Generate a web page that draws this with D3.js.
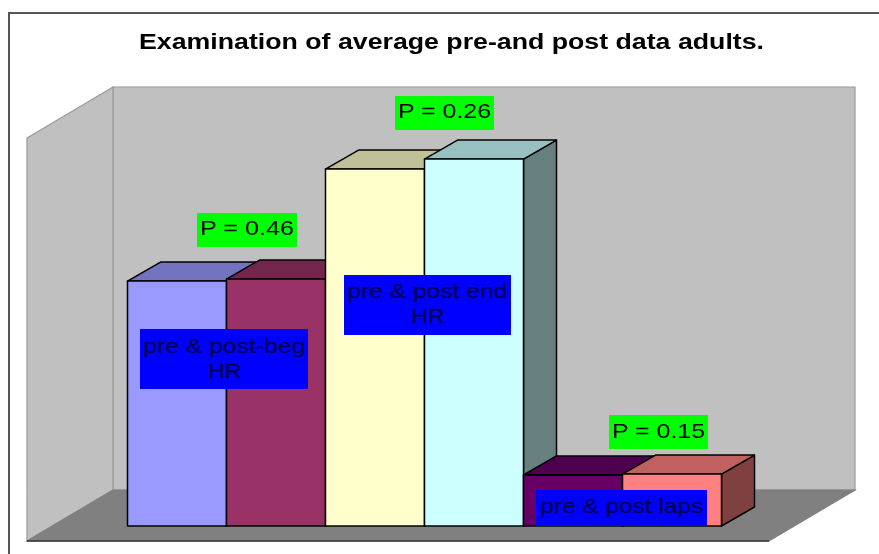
<!DOCTYPE html>
<html>
<head>
<meta charset="utf-8">
<script src="https://cdn.jsdelivr.net/npm/d3@7"></script>
<style>
  html, body { margin: 0; padding: 0; background: #fff; overflow: hidden; }
  svg { display: block; }
  text { font-family: "Liberation Sans", Arial, sans-serif; }
</style>
</head>
<body>
<svg id="chart" width="879" height="554"></svg>
<script>
const title = 'Examination of average pre-and post data adults.'

// bars (no value axis in the original, scale is estimated)
const categories = ['beg pre', 'beg post', 'end pre', 'end post', 'laps pre', 'laps post']
const values = [109.4, 110.3, 159.4, 163.9, 22.8, 23.2]
const barColors = ['#9999ff', '#993366', '#ffffcc', '#ccffff', '#660066', '#ff8080']

const pLabels = ['P = 0.46', 'P = 0.26', 'P = 0.15']
const groupLabels = [['pre & post-beg', 'HR'], ['pre & post end', 'HR'], ['pre & post laps']]

const WALL = { left: 113, right: 855, top: 87, bottom: 490 }
const DEPTH = { x: 86, y: 51 }
const BAR_DEPTH = { x: 33, y: 19 }
const BASE = 526

const $svg = d3.select('#chart')

const defs = $svg.append('defs')
defs.append('filter').attr('id', 'soft')
    .append('feGaussianBlur').attr('stdDeviation', 0.45)

// frame around the pasted chart, only top and left are inside the picture
$svg.append('path')
    .attr('d', 'M9,554V13H879')
    .attr('fill', 'none')
    .attr('stroke', '#555')
    .attr('stroke-width', 2)

$svg.append('text')
    .attr('x', 139)
    .attr('y', 49)
    .attr('font-size', 22)
    .attr('font-weight', 'bold')
    .attr('fill', '#000')
    .attr('textLength', 625)
    .attr('lengthAdjust', 'spacingAndGlyphs')
    .attr('filter', 'url(#soft)')
    .text(title)

const $gVis = $svg.append('g').attr('filter', 'url(#soft)')

const x = d3.scaleBand().domain(categories).range([127.5, 721.5]).padding(0)
const y = d3.scaleLinear().domain([0, 180]).range([BASE, BASE - (WALL.bottom - WALL.top)])

function poly(points) {
    return d3.line()(points) + 'Z'
}

// walls and floor
const walls = [
    { fill: '#c0c0c0', pts: [[WALL.left, WALL.top], [WALL.right, WALL.top], [WALL.right, WALL.bottom], [WALL.left, WALL.bottom]] },
    { fill: '#c0c0c0', pts: [[WALL.left - DEPTH.x, WALL.top + DEPTH.y], [WALL.left, WALL.top], [WALL.left, WALL.bottom], [WALL.left - DEPTH.x, WALL.bottom + DEPTH.y]] },
    { fill: '#808080', pts: [[WALL.left - DEPTH.x, WALL.bottom + DEPTH.y], [WALL.left, WALL.bottom], [WALL.right, WALL.bottom], [WALL.right - DEPTH.x, WALL.bottom + DEPTH.y]] }
]

$gVis.selectAll('.wall')
    .data(walls)
    .enter()
    .append('path')
    .attr('class', 'wall')
    .attr('d', d => poly(d.pts))
    .attr('fill', d => d.fill)
    .attr('stroke', d => d.fill == '#808080' ? '#808080' : '#999')
    .attr('stroke-width', 1.2)

$gVis.append('path')
    .attr('d', `M${WALL.left - DEPTH.x},${WALL.bottom + DEPTH.y}H${WALL.right - DEPTH.x}`)
    .attr('stroke', '#333')
    .attr('stroke-width', 1.5)

// one group per bar, painted left to right so each one covers the previous side face
const $bars = $gVis.selectAll('.bar')
    .data(values.map((v, i) => ({ v, i, cat: categories[i], color: barColors[i] })))
    .enter()
    .append('g')
    .attr('class', 'bar')

function faces(d) {
    const x0 = x(d.cat)
    const x1 = x0 + x.bandwidth()
    const yTop = y(d.v)
    const dx = BAR_DEPTH.x
    const dy = BAR_DEPTH.y
    return {
        front: [[x0, yTop], [x1, yTop], [x1, BASE], [x0, BASE]],
        top: [[x0, yTop], [x0 + dx, yTop - dy], [x1 + dx, yTop - dy], [x1, yTop]],
        side: [[x1, yTop], [x1 + dx, yTop - dy], [x1 + dx, BASE - dy], [x1, BASE]]
    }
}

$bars.append('path')
    .attr('d', d => poly(faces(d).side))
    .attr('fill', d => d3.rgb(d.color).darker(1.94))
$bars.append('path')
    .attr('d', d => poly(faces(d).top))
    .attr('fill', d => d3.rgb(d.color).darker(0.8))
$bars.append('path')
    .attr('d', d => poly(faces(d).front))
    .attr('fill', d => d.color)
$bars.selectAll('path')
    .attr('stroke', '#000')
    .attr('stroke-width', 1.5)
    .attr('stroke-linejoin', 'round')

// pasted-on text boxes, placed by hand in the original
const pBoxes = [
    { x: 197, y: 213, w: 100, h: 34, tx: 200, tw: 94, base: 235 },
    { x: 395, y: 96, w: 99, h: 34, tx: 398, tw: 93, base: 118 },
    { x: 609, y: 415, w: 99, h: 34, tx: 612, tw: 93, base: 438 }
]
const blueBoxes = [
    { x: 140, y: 329, w: 168, h: 60, lines: [{ tx: 143, tw: 162, base: 353 }, { tx: 208, tw: 33, base: 378 }] },
    { x: 344, y: 275, w: 167, h: 60, lines: [{ tx: 347, tw: 160, base: 298 }, { tx: 411, tw: 33, base: 323 }] },
    { x: 536, y: 490, w: 171, h: 36, lines: [{ tx: 540, tw: 163, base: 513 }] }
]

const $pLabels = $gVis.selectAll('.p-label')
    .data(pBoxes)
    .enter()
    .append('g')
    .attr('class', 'p-label')

$pLabels.append('rect')
    .attr('x', d => d.x).attr('y', d => d.y)
    .attr('width', d => d.w).attr('height', d => d.h)
    .attr('fill', '#00ff00')

$pLabels.append('text')
    .attr('x', d => d.tx).attr('y', d => d.base)
    .attr('font-size', 21)
    .attr('fill', '#000')
    .attr('textLength', d => d.tw)
    .attr('lengthAdjust', 'spacingAndGlyphs')
    .text((d, i) => pLabels[i])

const $blue = $gVis.selectAll('.group-label')
    .data(blueBoxes)
    .enter()
    .append('g')
    .attr('class', 'group-label')

$blue.append('rect')
    .attr('x', d => d.x).attr('y', d => d.y)
    .attr('width', d => d.w).attr('height', d => d.h)
    .attr('fill', '#0000ff')

$blue.each(function(d, i) {
    d.lines.forEach((l, j) => {
        d3.select(this).append('text')
            .attr('x', l.tx).attr('y', l.base)
            .attr('font-size', 21)
            .attr('fill', '#000050')
            .attr('stroke', '#000050')
            .attr('stroke-width', 0.3)
            .attr('textLength', l.tw)
            .attr('lengthAdjust', 'spacingAndGlyphs')
            .text(groupLabels[i][j])
    })
})
</script>
</body>
</html>
